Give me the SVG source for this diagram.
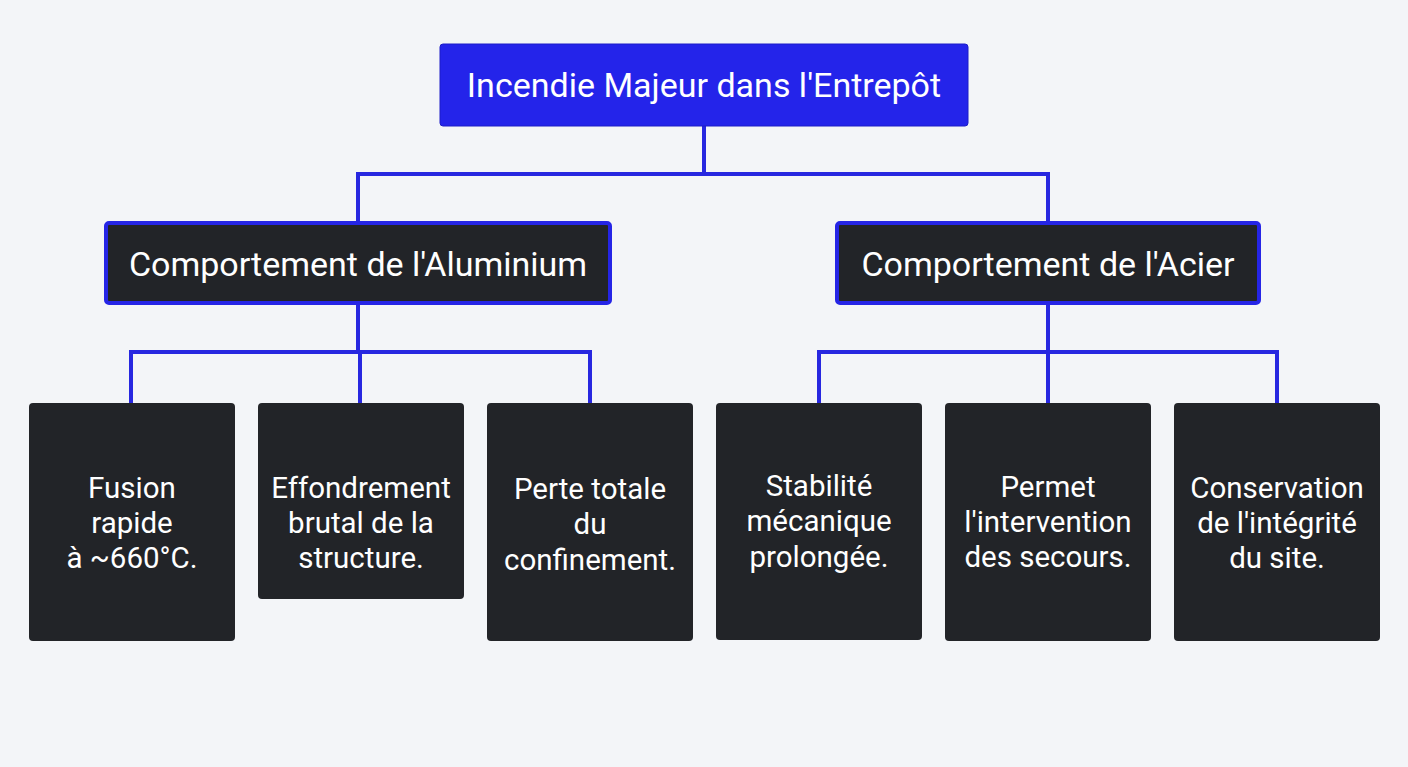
<svg xmlns="http://www.w3.org/2000/svg" width="1408" height="767" viewBox="0 0 1408 767">
<style>
.bg{fill:#f3f5f8}
.root{fill:#2424ea;stroke:#1d1dc8;stroke-width:1}
.mid{fill:#222428;stroke:#2525e6;stroke-width:4}
.leaf{fill:#222428}
.conn{fill:none;stroke:#2727e0;stroke-width:4}
text{font-family:Roboto,"Liberation Sans",sans-serif;fill:#ffffff;text-anchor:middle}
.t1{font-size:34px}
.t2{font-size:34px}
.t3{font-size:29.5px}
</style>
<rect class="bg" x="0" y="0" width="1408" height="767"/>
<g id="connectors">
<path class="conn" d="M704 126V174M358 222V174H1048V222"/>
<path class="conn" d="M358 304V352M131 403V352H590V403M360 352V403"/>
<path class="conn" d="M1048 304V352M819 403V352H1277V403M1048 352V403"/>
</g>
<g id="root">
<rect class="root" x="440" y="44" width="528" height="82" rx="3"/>
<text class="t1" x="704" y="97">Incendie Majeur dans l'Entrepôt</text>
</g>
<g id="alu">
<rect class="mid" x="106" y="223" width="504" height="80" rx="3"/>
<text class="t2" x="358" y="276">Comportement de l'Aluminium</text>
</g>
<g id="acier">
<rect class="mid" x="837" y="223" width="422" height="80" rx="3"/>
<text class="t2" x="1048" y="276">Comportement de l'Acier</text>
</g>
<g id="leaf1">
<rect class="leaf" x="29" y="403" width="206" height="238" rx="4"/>
<text class="t3" x="132" y="498">Fusion</text>
<text class="t3" x="132" y="533">rapide</text>
<text class="t3" x="132" y="568">à ~660°C.</text>
</g>
<g id="leaf2">
<rect class="leaf" x="258" y="403" width="206" height="196" rx="4"/>
<text class="t3" x="361" y="498">Effondrement</text>
<text class="t3" x="361" y="533">brutal de la</text>
<text class="t3" x="361" y="568">structure.</text>
</g>
<g id="leaf3">
<rect class="leaf" x="487" y="403" width="206" height="238" rx="4"/>
<text class="t3" x="590" y="499">Perte totale</text>
<text class="t3" x="590" y="534">du</text>
<text class="t3" x="590" y="570">confinement.</text>
</g>
<g id="leaf4">
<rect class="leaf" x="716" y="403" width="206" height="237" rx="4"/>
<text class="t3" x="819" y="496">Stabilité</text>
<text class="t3" x="819" y="531">mécanique</text>
<text class="t3" x="819" y="567">prolongée.</text>
</g>
<g id="leaf5">
<rect class="leaf" x="945" y="403" width="206" height="238" rx="4"/>
<text class="t3" x="1048" y="497">Permet</text>
<text class="t3" x="1048" y="532">l'intervention</text>
<text class="t3" x="1048" y="567">des secours.</text>
</g>
<g id="leaf6">
<rect class="leaf" x="1174" y="403" width="206" height="238" rx="4"/>
<text class="t3" x="1277" y="498">Conservation</text>
<text class="t3" x="1277" y="533">de l'intégrité</text>
<text class="t3" x="1277" y="568">du site.</text>
</g>
</svg>
